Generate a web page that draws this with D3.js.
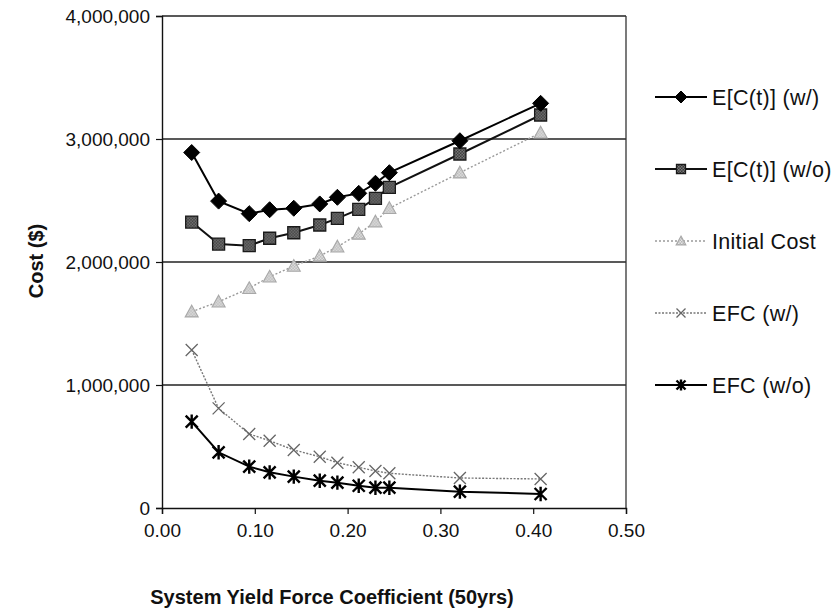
<!DOCTYPE html>
<html>
<head>
<meta charset="utf-8">
<script src="https://cdn.jsdelivr.net/npm/d3@7"></script>
<style>
  html, body { margin: 0; padding: 0; background: #fff; }
  svg { display: block; font-family: "Liberation Sans", Arial, Helvetica, sans-serif; }
</style>
</head>
<body>
<svg id="chart" width="838" height="616"></svg>
<script>
// ---- data ----
const xValues = [0.032, 0.061, 0.094, 0.116, 0.142, 0.170, 0.189, 0.212, 0.230, 0.245, 0.321, 0.408];
const ecWith    = [2890000, 2495000, 2393000, 2425000, 2437000, 2472000, 2526000, 2558000, 2640000, 2726000, 2986000, 3290000];
const ecWithout = [2325000, 2146000, 2133000, 2193000, 2238000, 2301000, 2355000, 2428000, 2518000, 2607000, 2878000, 3195000];
const initialCost = [1596000, 1677000, 1786000, 1880000, 1967000, 2049000, 2124000, 2228000, 2328000, 2437000, 2726000, 3051000];
const efcWith    = [1285000, 810000, 602000, 547000, 472000, 417000, 368000, 331000, 301000, 282000, 244000, 236000];
const efcWithout = [702000, 453000, 336000, 290000, 255000, 222000, 206000, 181000, 165000, 165000, 133000, 114000];
const seriesNames = ["E[C(t)] (w/)", "E[C(t)] (w/o)", "Initial Cost", "EFC (w/)", "EFC (w/o)"];
const xTicks = [0, 0.1, 0.2, 0.3, 0.4, 0.5];
const yTicks = [0, 1000000, 2000000, 3000000, 4000000];
const xTitle = "System Yield Force Coefficient (50yrs)";
const yTitle = "Cost ($)";

// ---- layout ----
const svg = d3.select("#chart");
const L = 162, R = 626, T = 16, B = 508;
const x = d3.scaleLinear().domain([0, 0.5]).range([L, R]);
const y = d3.scaleLinear().domain([0, 4000000]).range([B, T]);

// checkered fills
const defs = svg.append("defs");
function checker(id, a, b) {
  const p = defs.append("pattern").attr("id", id).attr("width", 3).attr("height", 3)
    .attr("patternUnits", "userSpaceOnUse");
  p.append("rect").attr("width", 3).attr("height", 3).attr("fill", a);
  p.append("rect").attr("width", 1.5).attr("height", 1.5).attr("fill", b);
  p.append("rect").attr("x", 1.5).attr("y", 1.5).attr("width", 1.5).attr("height", 1.5).attr("fill", b);
}
checker("chkDark", "#3a3a3a", "#7a7a7a");
checker("chkLight", "#e6e6e6", "#b4b4b4");

// grid lines + frame
svg.append("g").selectAll("line").data(yTicks.filter(d => d > 0)).join("line")
  .attr("x1", L).attr("x2", R).attr("y1", d => y(d)).attr("y2", d => y(d))
  .attr("stroke", "#222").attr("stroke-width", 1.3);
svg.append("line").attr("x1", R).attr("x2", R).attr("y1", T).attr("y2", B)
  .attr("stroke", "#333").attr("stroke-width", 1.3);

// axes
const xAxis = svg.append("g").attr("transform", `translate(0,${B})`)
  .call(d3.axisBottom(x).tickValues(xTicks).tickFormat(d3.format(".2f")).tickSize(6).tickPadding(10));
const yAxis = svg.append("g").attr("transform", `translate(${L},0)`)
  .call(d3.axisLeft(y).tickValues(yTicks).tickFormat(d3.format(",")).tickSize(6).tickPadding(6));
[xAxis, yAxis].forEach(g => {
  g.select(".domain").attr("stroke", "#111").attr("stroke-width", 1.4);
  g.selectAll(".tick line").attr("stroke", "#111").attr("stroke-width", 1.2);
  g.selectAll(".tick text").attr("fill", "#111").style("font-size", "19px")
    .style("font-family", "'Liberation Sans', Arial, sans-serif");
});
yAxis.selectAll(".tick text").attr("dy", "0.35em");

// axis titles
svg.append("text").attr("x", 332).attr("y", 604).attr("text-anchor", "middle")
  .style("font-size", "20px").style("font-weight", "bold").attr("fill", "#111").text(xTitle);
svg.append("text").attr("transform", "translate(43,261) rotate(-90)").attr("text-anchor", "middle")
  .style("font-size", "20px").style("font-weight", "bold").attr("fill", "#111").text(yTitle);

// marker shapes
function markerPath(type, s) {
  switch (type) {
    case "diamond": return `M0,${-s}L${s},0L0,${s}L${-s},0Z`;
    case "square": return `M${-s},${-s}H${s}V${s}H${-s}Z`;
    case "triangle": return `M0,${-s}L${s},${s * 0.8}H${-s}Z`;
    case "x": return `M${-s},${-s}L${s},${s}M${-s},${s}L${s},${-s}`;
    case "star": return `M${-s},${-s}L${s},${s}M${-s},${s}L${s},${-s}M0,${-s * 1.2}V${s * 1.2}`;
  }
}

const series = [
  { name: seriesNames[0], values: ecWith, line: "#000", width: 2, dash: null, marker: "diamond", size: 8, fill: "#000", mstroke: "#000", mw: 1 },
  { name: seriesNames[1], values: ecWithout, line: "#111", width: 2, dash: null, marker: "square", size: 6, fill: "url(#chkDark)", mstroke: "#1a1a1a", mw: 1.3 },
  { name: seriesNames[2], values: initialCost, line: "#9a9a9a", width: 1.4, dash: "2,2", marker: "triangle", size: 6.5, fill: "url(#chkLight)", mstroke: "#a8a8a8", mw: 1.1 },
  { name: seriesNames[3], values: efcWith, line: "#777", width: 1.4, dash: "2,1.5", marker: "x", size: 6, fill: "none", mstroke: "#666", mw: 1.3 },
  { name: seriesNames[4], values: efcWithout, line: "#000", width: 2, dash: null, marker: "star", size: 6, fill: "none", mstroke: "#000", mw: 2.4 }
];

const lineGen = d3.line().x(d => x(d[0])).y(d => y(d[1]));

// draw lines (back to front)
series.slice().reverse().forEach(s => {
  const pts = xValues.map((xv, i) => [xv, s.values[i]]);
  svg.append("path").datum(pts).attr("d", lineGen)
    .attr("fill", "none").attr("stroke", s.line).attr("stroke-width", s.width)
    .attr("stroke-dasharray", s.dash);
  svg.append("g").selectAll("path").data(pts).join("path")
    .attr("transform", d => `translate(${x(d[0])},${y(d[1])})`)
    .attr("d", markerPath(s.marker, s.size))
    .attr("fill", s.fill).attr("stroke", s.mstroke).attr("stroke-width", s.mw);
});

// legend
const legendY = [97, 169, 241, 313, 385];
const lg = svg.append("g");
series.forEach((s, i) => {
  const ly = legendY[i];
  lg.append("line").attr("x1", 655).attr("x2", 707).attr("y1", ly).attr("y2", ly)
    .attr("stroke", s.line).attr("stroke-width", s.width).attr("stroke-dasharray", s.dash);
  lg.append("path").attr("transform", `translate(681,${ly})`)
    .attr("d", markerPath(s.marker, s.size * 0.75))
    .attr("fill", s.fill).attr("stroke", s.mstroke).attr("stroke-width", s.mw);
  lg.append("text").attr("x", 712).attr("y", ly).attr("dy", "0.35em")
    .style("font-size", "21.5px").style("letter-spacing", "0.3px").attr("fill", "#111").text(s.name);
});
</script>
</body>
</html>
